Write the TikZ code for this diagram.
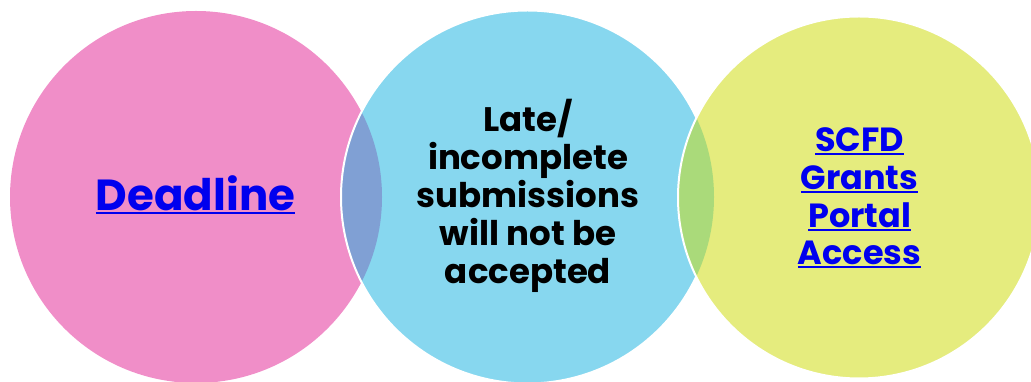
\documentclass[tikz,border=0pt]{standalone}
\usepackage{fontspec}
\setmainfont{Poppins}
\definecolor{pinkc}{RGB}{240,142,200}
\definecolor{bluec}{RGB}{135,215,239}
\definecolor{yellowc}{RGB}{229,236,126}
\definecolor{pbover}{RGB}{128,160,212}
\definecolor{byover}{RGB}{170,218,122}
\definecolor{linkblue}{RGB}{0,0,238}
\newcommand\lnk[1]{\setbox0=\hbox{#1}\rlap{\rule[-3.5pt]{\wd0}{1.8pt}}\box0}
\begin{document}
\begin{tikzpicture}[x=1pt,y=1pt,
  circtext/.style={font=\bfseries, align=center, inner sep=0pt},
  linktext/.style={circtext, text=linkblue}]
\useasboundingbox (0,0) rectangle (1031,382);
\clip (0,0) rectangle (1031,382);
% circles
\coordinate (cp) at (196,185);
\coordinate (cb) at (527.5,185);
\coordinate (cy) at (859,184.5);
\fill[pinkc] (cp) circle[radius=186];
\fill[bluec] (cb) circle[radius=186.5];
\begin{scope}
  \clip (cp) circle[radius=186];
  \fill[pbover] (cb) circle[radius=186.5];
\end{scope}
\draw[white, line width=2pt] (cb) circle[radius=186.5];
\fill[yellowc] (cy) circle[radius=181];
\begin{scope}
  \clip (cb) circle[radius=186.5];
  \fill[byover] (cy) circle[radius=181];
\end{scope}
\draw[white, line width=2pt] (cy) circle[radius=181];
% texts
\node[linktext, font=\bfseries\fontsize{43.5}{50}\selectfont] (dead) at (195.5,187) {\lnk{Deadline}};
\node[circtext, font=\bfseries\fontsize{34}{38}\selectfont] (late) at (528,186) {Late/\\incomplete\\submissions\\will not be\\accepted};
\node[linktext, font=\bfseries\fontsize{33.5}{37.7}\selectfont] (scfd) at (859.5,184) {\lnk{SCFD}\\\lnk{Grants}\\\lnk{Portal}\\\lnk{Access}};
\end{tikzpicture}
\end{document}
